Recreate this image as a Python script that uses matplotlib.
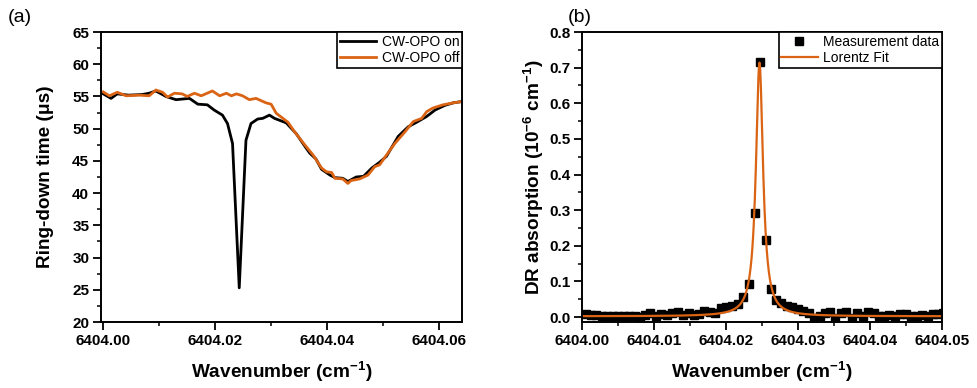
import numpy as np
import matplotlib
matplotlib.use("Agg")
import matplotlib.pyplot as plt
from matplotlib.ticker import MultipleLocator, FormatStrFormatter

plt.rcParams['font.family'] = ['Liberation Sans', 'DejaVu Sans']
plt.rcParams['mathtext.fontset'] = 'custom'
plt.rcParams['mathtext.rm'] = 'Liberation Sans:bold'
plt.rcParams['mathtext.bf'] = 'Liberation Sans:bold'
plt.rcParams['mathtext.default'] = 'rm'

ORANGE = '#DA6414'
X0 = 6404.0

# (a) ring-down time, offsets from 6404.00 cm-1
on_x = [0.0000, 0.0014, 0.0025, 0.0045, 0.0070, 0.0082, 0.0094, 0.0112, 0.0130,
        0.0154, 0.0169, 0.0186, 0.0198, 0.0213, 0.0222, 0.0231, 0.0243, 0.0255,
        0.0264, 0.0276, 0.0285, 0.0297, 0.0306, 0.0327, 0.0345, 0.0360, 0.0369,
        0.0380, 0.0390, 0.0405, 0.0414, 0.0428, 0.0437, 0.0452, 0.0465, 0.0480,
        0.0494, 0.0506, 0.0527, 0.0545, 0.0560, 0.0578, 0.0593, 0.0610, 0.0625,
        0.0640]
on_y = [55.4, 54.7, 55.4, 55.2, 55.3, 55.5, 55.85, 55.0, 54.5,
        54.7, 53.8, 53.7, 52.9, 52.1, 50.8, 47.7, 25.3, 48.2,
        50.8, 51.5, 51.6, 52.1, 51.6, 50.9, 49.2, 47.3, 46.2,
        45.3, 43.7, 42.8, 42.4, 42.3, 41.8, 42.5, 42.6, 43.9,
        44.8, 45.7, 48.8, 50.3, 51.0, 51.9, 52.9, 53.6, 54.0,
        54.2]

off_x = [0.0000, 0.0011, 0.0025, 0.0041, 0.0064, 0.0082, 0.0094, 0.0106, 0.0115,
         0.0127, 0.0141, 0.0150, 0.0163, 0.0175, 0.0195, 0.0208, 0.0220, 0.0229,
         0.0238, 0.0249, 0.0261, 0.0273, 0.0291, 0.0300, 0.0309, 0.0330, 0.0342,
         0.0360, 0.0375, 0.0390, 0.0399, 0.0408, 0.0414, 0.0428, 0.0437, 0.0443,
         0.0458, 0.0473, 0.0485, 0.0494, 0.0506, 0.0521, 0.0539, 0.0554, 0.0569,
         0.0578, 0.0589, 0.0607, 0.0625, 0.0640]
off_y = [55.7, 55.1, 55.65, 55.1, 55.2, 55.1, 56.0, 55.65, 54.9,
         55.5, 55.4, 55.0, 55.5, 55.1, 55.85, 55.1, 55.5, 55.1,
         55.4, 55.1, 54.5, 54.7, 54.0, 53.8, 52.4, 51.0, 49.5,
         47.5, 45.9, 43.9, 43.3, 43.2, 42.3, 42.2, 41.5, 41.95,
         42.2, 42.8, 44.1, 44.4, 45.9, 47.7, 49.5, 51.1, 51.6,
         52.65, 53.2, 53.7, 54.0, 54.2]

# (b) DR absorption (10^-6 cm-1)
meas_x = [0.0005, 0.0013, 0.0020, 0.0028, 0.0035, 0.0043, 0.0050, 0.0058, 0.0065,
          0.0073, 0.0080, 0.0088, 0.0095, 0.0103, 0.0110, 0.0118, 0.0125, 0.0133,
          0.0140, 0.0148, 0.0155, 0.0163, 0.0170, 0.0178, 0.0185, 0.0193, 0.0200,
          0.0208, 0.0216, 0.0224, 0.0232, 0.0240, 0.0247, 0.0256, 0.0263, 0.0270,
          0.0277, 0.0285, 0.0292, 0.0300, 0.0307, 0.0315, 0.0322, 0.0330, 0.0337,
          0.0345, 0.0352, 0.0360, 0.0367, 0.0375, 0.0382, 0.0390, 0.0397, 0.0405,
          0.0412, 0.0420, 0.0427, 0.0435, 0.0442, 0.0450, 0.0457, 0.0465, 0.0472,
          0.0480, 0.0487, 0.0495, 0.0502]
meas_y = [0.008, 0.006, 0.005, 0.003, 0.004, 0.002, 0.003, 0.004, 0.002,
          0.003, 0.001, 0.006, 0.010, 0.004, 0.009, 0.005, 0.012, 0.013,
          0.006, 0.011, 0.007, 0.009, 0.018, 0.013, 0.012, 0.024, 0.029,
          0.031, 0.036, 0.057, 0.092, 0.292, 0.716, 0.215, 0.080, 0.047,
          0.038, 0.032, 0.027, 0.022, 0.017, 0.012, -0.002, 0.004, 0.012,
          0.013, -0.003, 0.010, 0.014, -0.002, 0.011, 0.003, 0.013, 0.010,
          0.004, 0.002, 0.005, 0.003, 0.009, 0.008, 0.002, 0.004, 0.006,
          0.003, 0.008, 0.009, 0.010]

# Lorentz fit parameters
fit_center = 0.02465
fit_hwhm = 0.0006
fit_amp = 0.712
fit_base = 0.002

fig = plt.figure(figsize=(9.77, 3.88), dpi=100)
axa = fig.add_axes([101/977, 1-322/388, 361/977, 290/388])
axb = fig.add_axes([582/977, 1-322/388, 360/977, 290/388])

axa.plot(X0 + np.array(on_x), on_y, color='black', lw=2.0, label='CW-OPO on')
axa.plot(X0 + np.array(off_x), off_y, color=ORANGE, lw=2.0, label='CW-OPO off')
axa.set_xlim(X0 - 0.0004, X0 + 0.0641)
axa.set_ylim(20, 65)
axa.xaxis.set_major_locator(MultipleLocator(0.02))
axa.xaxis.set_minor_locator(MultipleLocator(0.01))
axa.xaxis.set_major_formatter(FormatStrFormatter('%.2f'))
axa.yaxis.set_major_locator(MultipleLocator(5))
axa.yaxis.set_minor_locator(MultipleLocator(2.5))
axa.set_ylabel('Ring-down time (μs)', fontsize=13.7, fontweight='bold',
               labelpad=13)

fx = np.linspace(0, 0.05, 1001)
fy = fit_base + fit_amp / (1 + ((fx - fit_center) / fit_hwhm) ** 2)
axb.plot(X0 + np.array(meas_x), meas_y, 's', color='black', ms=5.5,
         label='Measurement data')
axb.plot(X0 + fx, fy, color=ORANGE, lw=1.6, label='Lorentz Fit')
axb.set_xlim(X0, X0 + 0.05)
axb.set_ylim(-0.014, 0.8)
axb.xaxis.set_major_locator(MultipleLocator(0.01))
axb.xaxis.set_minor_locator(MultipleLocator(0.005))
axb.xaxis.set_major_formatter(FormatStrFormatter('%.2f'))
axb.yaxis.set_major_locator(MultipleLocator(0.1))
axb.yaxis.set_minor_locator(MultipleLocator(0.05))
axb.yaxis.set_major_formatter(FormatStrFormatter('%.1f'))
axb.set_ylabel('DR absorption (10$^{-6}$ cm$^{-1}$)', fontsize=13.7,
               fontweight='bold', labelpad=2)

for ax in (axa, axb):
    ax.set_xlabel('Wavenumber (cm$^{-1}$)', fontsize=13.7, fontweight='bold',
                  labelpad=9)
    for s in ax.spines.values():
        s.set_linewidth(1.4)
    ax.tick_params(which='major', direction='out', length=5.5, width=1.3,
                   labelsize=11, pad=3)
    ax.tick_params(which='minor', direction='out', length=3, width=1.1)
    for lab in ax.get_xticklabels() + ax.get_yticklabels():
        lab.set_fontweight('bold')
    leg = ax.legend(loc='upper right', borderaxespad=0, fancybox=False,
                    edgecolor='black', framealpha=1, fontsize=10,
                    borderpad=0.2, labelspacing=0.15, handlelength=2.6,
                    handletextpad=0.4)
    leg.get_frame().set_linewidth(1.2)

fig.text(8/977, 1-18/388, '(a)', fontsize=14, va='center')
fig.text(568/977, 1-18/388, '(b)', fontsize=14, va='center')

fig.savefig('out.png', dpi=100)
